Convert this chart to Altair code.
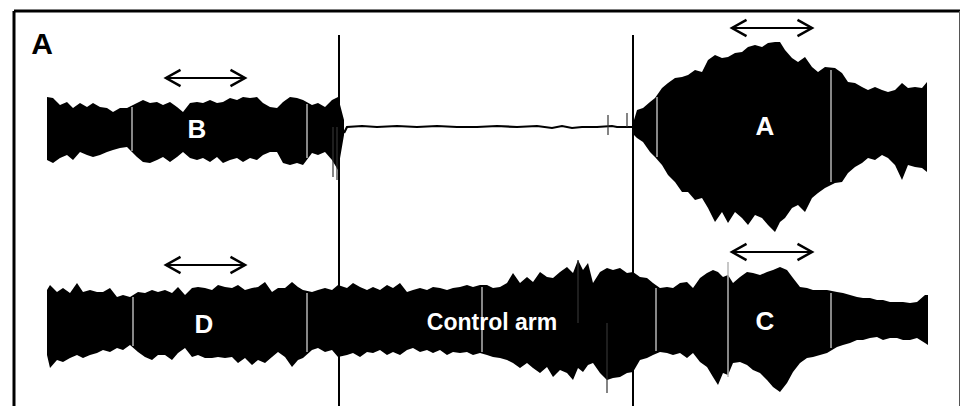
import altair as alt
import pandas as pd

# ---------------- data (time in s, amplitude in uV) ----------------
TOP_OFFSET = 0
BOT_OFFSET = -1960

# top trace, before stimulation (B)
top1_t = [0.0, 0.6, 1.3, 2.0, 2.6, 3.3, 4.0, 4.6, 5.3, 6.0,
          6.6, 7.3, 8.0, 9.0, 9.6, 10.3, 11.0, 11.6, 12.3, 13.0,
          13.6, 14.3, 15.0, 15.6, 16.3, 17.0, 17.6, 18.3, 19.0, 19.6,
          20.3, 21.0, 21.6, 22.3, 23.0, 23.6, 24.3, 25.0, 25.6, 26.5,
          27.1, 27.8, 28.5, 29.1, 29.7]
top1_up = [300, 290, 220, 250, 190, 240, 200, 240, 200, 190,
           150, 190, 190, 240, 270, 240, 250, 220, 250, 200,
           150, 240, 250, 240, 270, 240, 250, 290, 270, 300,
           290, 300, 240, 200, 190, 250, 300, 290, 270, 220,
           240, 200, 270, 300, 70]
top1_lo = [-330, -360, -310, -280, -330, -250, -280, -300, -280, -250,
           -230, -210, -200, -300, -350, -360, -330, -300, -350, -300,
           -250, -310, -330, -310, -350, -300, -360, -330, -310, -350,
           -310, -330, -280, -250, -250, -360, -380, -360, -380, -260,
           -280, -250, -330, -430, -80]

# top trace, silent period
flat_t = [29.7, 30.0, 31.5, 33.0, 35.0, 37.0, 39.0, 41.0, 43.0, 45.0,
          47.0, 49.0, 50.5, 51.5, 52.5, 53.5, 55.0, 56.5, 57.0, 58.6]
flat_v = [-60, 0, 10, 0, 10, 0, 10, 0, 0, 10,
          0, 10, -10, 10, -10, 0, 0, 10, 0, 0]

# top trace, after stimulation (A)
top3_t = [58.7, 59.0, 59.6, 60.3, 60.8, 61.5, 62.1, 62.8, 63.5, 64.1,
          64.8, 65.5, 66.1, 66.8, 67.5, 68.1, 68.8, 69.5, 70.1, 70.8,
          71.5, 72.1, 72.8, 73.3, 73.8, 74.5, 75.1, 75.8, 76.5, 77.1,
          77.8, 78.8, 79.5, 80.1, 80.8, 81.5, 82.1, 82.8, 83.5, 84.1,
          84.8, 85.5, 86.1, 86.8, 87.5, 88.0]
top3_up = [70, 170, 190, 250, 290, 390, 440, 490, 500, 520,
           570, 550, 670, 720, 690, 700, 740, 750, 800, 820,
           800, 840, 850, 850, 770, 690, 650, 700, 600, 550,
           600, 590, 540, 450, 440, 400, 370, 400, 370, 350,
           370, 440, 390, 400, 390, 450]
top3_lo = [-80, -110, -150, -250, -300, -380, -480, -550, -650, -650,
           -730, -710, -810, -950, -850, -960, -850, -910, -980, -880,
           -910, -980, -1050, -950, -910, -810, -780, -850, -710, -660,
           -610, -560, -550, -460, -400, -360, -310, -330, -280, -310,
           -380, -530, -380, -400, -410, -450]

# bottom trace (control arm: D, control, C)
bot_t = [0.0, 0.3, 1.0, 1.6, 2.3, 3.0, 3.6, 4.3, 5.0, 5.6,
         6.3, 7.0, 7.6, 8.3, 9.1, 9.8, 10.5, 11.1, 11.8, 12.5,
         13.1, 13.8, 14.5, 15.1, 15.8, 16.5, 17.1, 17.8, 18.5, 19.1,
         19.8, 20.5, 21.1, 21.8, 22.5, 23.1, 23.8, 24.5, 25.1, 25.6,
         26.5, 27.1, 27.8, 28.5, 29.1, 30.0, 30.6, 31.3, 32.0, 32.6,
         33.3, 34.0, 34.6, 35.3, 36.0, 36.6, 37.3, 38.0, 38.6, 39.3,
         40.0, 40.6, 41.3, 42.0, 42.6, 43.3, 44.0, 44.6, 45.3, 46.0,
         46.6, 47.3, 48.0, 48.6, 49.3, 50.0, 50.6, 51.3, 52.0, 52.6,
         53.1, 53.6, 54.1, 54.6, 55.3, 56.0, 56.6, 57.3, 58.0, 58.6,
         59.3, 60.0, 60.6, 61.3, 62.0, 62.6, 63.3, 64.0, 64.6, 65.3,
         66.0, 66.6, 67.1, 67.6, 68.1, 68.6, 69.3, 70.0, 70.6, 71.3,
         72.0, 72.6, 73.3, 74.0, 74.6, 75.3, 76.0, 76.6, 77.3, 78.0,
         79.0, 79.6, 80.3, 81.0, 81.6, 82.3, 83.0, 83.6, 84.3, 85.0,
         85.6, 86.3, 87.0, 87.8, 88.1]
bot_up = [330, 380, 310, 350, 300, 400, 310, 330, 310, 310,
          350, 260, 280, 260, 310, 300, 330, 310, 330, 300,
          360, 280, 350, 360, 350, 330, 380, 360, 350, 380,
          330, 350, 360, 410, 310, 350, 350, 410, 360, 330,
          310, 330, 350, 330, 380, 350, 400, 360, 330, 360,
          330, 380, 350, 400, 310, 330, 350, 330, 360, 350,
          330, 350, 360, 380, 360, 380, 380, 350, 360, 400,
          500, 400, 460, 410, 510, 460, 450, 510, 560, 500,
          630, 530, 600, 400, 510, 550, 530, 550, 500, 510,
          460, 450, 400, 350, 360, 350, 400, 410, 350, 450,
          500, 530, 510, 460, 480, 400, 460, 510, 500, 480,
          510, 530, 560, 530, 450, 360, 350, 330, 330, 330,
          310, 300, 280, 260, 250, 250, 230, 230, 210, 210,
          210, 200, 210, 280, 280]
bot_lo = [-320, -450, -370, -390, -350, -320, -350, -320, -300, -270,
          -290, -250, -270, -220, -290, -340, -370, -320, -320, -370,
          -300, -250, -340, -320, -350, -350, -340, -350, -340, -400,
          -350, -420, -370, -400, -340, -290, -340, -440, -370, -350,
          -270, -250, -290, -270, -340, -320, -300, -340, -290, -300,
          -270, -320, -290, -320, -270, -250, -290, -270, -300, -270,
          -320, -290, -300, -290, -320, -300, -320, -340, -350, -370,
          -400, -450, -400, -450, -500, -440, -540, -470, -500, -570,
          -450, -490, -420, -400, -500, -570, -550, -540, -500, -490,
          -370, -350, -320, -290, -300, -320, -300, -350, -300, -390,
          -440, -540, -620, -500, -520, -400, -390, -420, -470, -500,
          -570, -640, -690, -600, -490, -400, -350, -340, -320, -300,
          -240, -220, -200, -170, -170, -150, -140, -170, -150, -150,
          -170, -170, -150, -200, -220]

# stimulation artefacts (vertical lines)
stim_t = [29.2, 58.6]
stim_top = 920

# light segment markers inside the traces
mark_trace = ["top", "top", "top", "top", "bot", "bot", "bot", "bot", "bot", "bot"]
mark_t = [8.5, 26.0, 61.0, 78.4, 8.6, 26.0, 43.5, 60.9, 68.1, 78.4]
mark_hi = [200, 230, 300, 570, 260, 300, 360, 350, 610, 300]
mark_lo = [-240, -310, -300, -550, -230, -290, -290, -280, -540, -250]

# isolated spikes
spike_trace = ["top", "top", "top", "top", "bot", "bot"]
spike_t = [28.6, 29.0, 56.1, 58.0, 56.0, 53.1]
spike_hi = [0, 0, 120, 140, 0, 630]
spike_lo = [-500, -530, -80, 0, -700, 0]

# analysis windows (double arrows)
arrow_trace = ["top", "top", "bot", "bot"]
arrow_t1 = [11.9, 68.5, 11.9, 68.5]
arrow_t2 = [19.8, 76.5, 19.8, 76.5]
arrow_y = [490, 990, 580, 710]

# labels
label_text = ["B", "A", "D", "Control arm", "C"]
label_trace = ["top", "top", "bot", "bot", "bot"]
label_t = [15.0, 71.8, 15.7, 44.5, 71.8]
label_y = [-30, 0, -20, 0, 10]
label_size = [26, 26, 26, 23, 26]

panel_label = "A"
panel_t = -0.5
panel_y = 820

# ---------------- tables ----------------
OFF = {"top": TOP_OFFSET, "bot": BOT_OFFSET}

bands = pd.concat([
    pd.DataFrame({"t": top1_t, "up": top1_up, "lo": top1_lo, "seg": "top-pre", "trace": "top"}),
    pd.DataFrame({"t": top3_t, "up": top3_up, "lo": top3_lo, "seg": "top-post", "trace": "top"}),
    pd.DataFrame({"t": bot_t, "up": bot_up, "lo": bot_lo, "seg": "bottom", "trace": "bot"}),
], ignore_index=True)
bands["y_up"] = bands["up"] + bands["trace"].map(OFF)
bands["y_lo"] = bands["lo"] + bands["trace"].map(OFF)

flat = pd.DataFrame({"t": flat_t, "v": flat_v})
flat["y"] = flat["v"] + TOP_OFFSET

marks = pd.DataFrame({"trace": mark_trace, "t": mark_t, "hi": mark_hi, "lo": mark_lo})
marks["y_hi"] = marks["hi"] + marks["trace"].map(OFF)
marks["y_lo"] = marks["lo"] + marks["trace"].map(OFF)

spikes = pd.DataFrame({"trace": spike_trace, "t": spike_t, "hi": spike_hi, "lo": spike_lo})
spikes["y_hi"] = spikes["hi"] + spikes["trace"].map(OFF)
spikes["y_lo"] = spikes["lo"] + spikes["trace"].map(OFF)

Y_DOMAIN = [-2790, 1160]
X_DOMAIN = [-3.3, 91.3]

stims = pd.DataFrame({"t": stim_t, "y1": stim_top, "y2": Y_DOMAIN[0]})

arrows = pd.DataFrame({"trace": arrow_trace, "t1": arrow_t1, "t2": arrow_t2, "a": arrow_y})
arrows["y"] = arrows["a"] + arrows["trace"].map(OFF)
heads_l = arrows[["t1", "y"]].rename(columns={"t1": "t"})
heads_r = arrows[["t2", "y"]].rename(columns={"t2": "t"})

labels = pd.DataFrame({"text": label_text, "trace": label_trace, "t": label_t,
                       "v": label_y, "size": label_size})
labels["y"] = labels["v"] + labels["trace"].map(OFF)
panel = pd.DataFrame({"text": [panel_label], "t": [panel_t], "y": [panel_y]})

# ---------------- chart ----------------
xs = alt.Scale(domain=X_DOMAIN, nice=False, zero=False)
ys = alt.Scale(domain=Y_DOMAIN, nice=False, zero=False)


def X(field):
    return alt.X(f"{field}:Q", scale=xs, axis=None)


def Y(field):
    return alt.Y(f"{field}:Q", scale=ys, axis=None)


area = alt.Chart(bands).mark_area(color="black", interpolate="linear").encode(
    x=X("t"), y=Y("y_up"), y2="y_lo:Q", detail="seg:N")

flat_line = alt.Chart(flat).mark_line(color="black", strokeWidth=2.2).encode(
    x=X("t"), y=Y("y"))

spike_rules = alt.Chart(spikes).mark_rule(color="#333333", strokeWidth=1.2).encode(
    x=X("t"), y=Y("y_hi"), y2="y_lo:Q")

marker_rules = alt.Chart(marks).mark_rule(color="#b5b5b5", strokeWidth=1.5).encode(
    x=X("t"), y=Y("y_hi"), y2="y_lo:Q")

stim_rules = alt.Chart(stims).mark_rule(color="black", strokeWidth=2).encode(
    x=X("t"), y=Y("y1"), y2="y2:Q")

shafts = alt.Chart(arrows).mark_rule(color="black", strokeWidth=2).encode(
    x=X("t1"), x2="t2:Q", y=Y("y"))

left_heads = alt.Chart(heads_l).mark_point(
    shape="M1.8,-1L0,0L1.8,1", filled=False, color="black", strokeWidth=2.5,
    size=260, opacity=1).encode(x=X("t"), y=Y("y"))
right_heads = alt.Chart(heads_r).mark_point(
    shape="M-1.8,-1L0,0L-1.8,1", filled=False, color="black", strokeWidth=2.5,
    size=260, opacity=1).encode(x=X("t"), y=Y("y"))

label_text_layer = alt.Chart(labels).mark_text(
    color="white", font="Liberation Sans", fontWeight="bold",
    align="center", baseline="middle").encode(
    x=X("t"), y=Y("y"), text="text:N",
    size=alt.Size("size:Q", scale=None, legend=None))

panel_text = alt.Chart(panel).mark_text(
    color="black", font="Liberation Sans", fontWeight="bold", fontSize=30,
    align="center", baseline="middle").encode(x=X("t"), y=Y("y"), text="text:N")

W, H = 946, 395
frame_top = alt.Chart(panel).mark_rule(color="black", strokeWidth=3).encode(
    x=alt.value(0), x2=alt.value(W), y=alt.value(0))
frame_left = alt.Chart(panel).mark_rule(color="black", strokeWidth=3).encode(
    x=alt.value(0), y=alt.value(0), y2=alt.value(H + 10))
frame_right = alt.Chart(panel).mark_rule(color="#555555", strokeWidth=1).encode(
    x=alt.value(W - 0.5), y=alt.value(0), y2=alt.value(H + 10))

chart = alt.layer(
    area, flat_line, spike_rules, marker_rules, stim_rules,
    shafts, left_heads, right_heads, label_text_layer, panel_text,
    frame_top, frame_left, frame_right,
).properties(
    width=W, height=H,
    autosize=alt.AutoSizeParams(type="none"),
    padding={"left": 6, "top": 3, "right": 0, "bottom": 0},
    background="white",
).configure_view(stroke=None)

chart.save("out.html", embed_options={"renderer": "svg", "actions": False})
